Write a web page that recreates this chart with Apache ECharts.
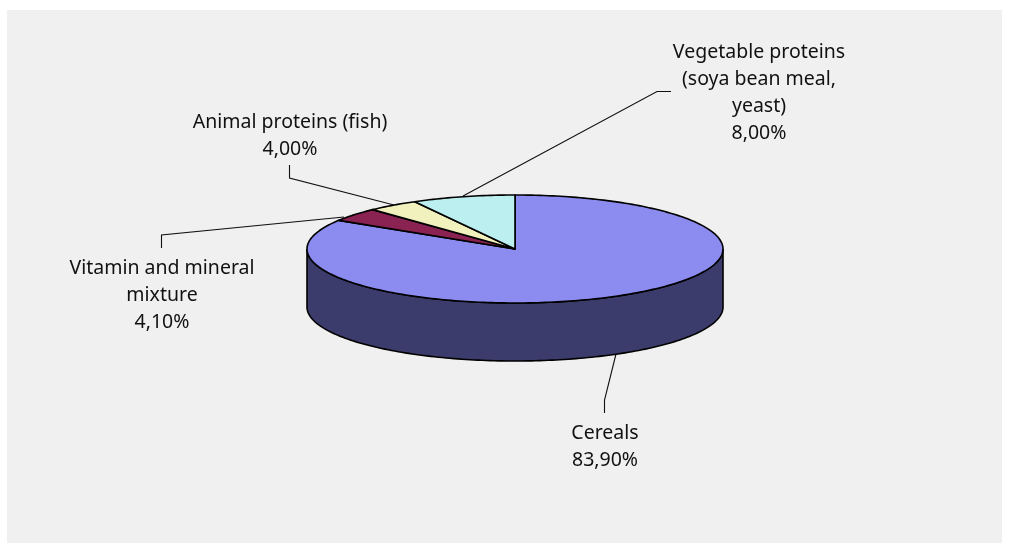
<!DOCTYPE html>
<html>
<head>
<meta charset="utf-8">
<style>
  html, body { margin: 0; padding: 0; background: #fff; }
  #chart { width: 1009px; height: 543px; }
</style>
<script src="https://cdn.jsdelivr.net/npm/echarts@6/dist/echarts.min.js"></script>
</head>
<body>
<div id="chart"></div>
<script>
// values
const names = ['Cereals', 'Vitamin and mineral\nmixture', 'Animal proteins (fish)', 'Vegetable proteins\n(soya bean meal,\nyeast)'];
const values = [83.9, 4.1, 4.0, 8.0];

const colors = ['#8b8bf0', '#8a2252', '#f1f1bd', '#bcf0f0'];
const wallColor = '#3c3c6c';

// pie geometry
const cx = 515, cy = 249, rx = 208, ry = 54, depth = 58;

// label anchors and leader lines, same order as names
const labelPos = [[605, 420], [162, 255], [290, 109], [759, 39]];
const leaders = [
  [[604.5, 413], [604.5, 400], [616, 354]],
  [[161.5, 248], [161.5, 235], [344, 217]],
  [[289.5, 165], [289.5, 178], [394, 205]],
  [[671, 91.5], [657, 91.5], [463, 196]]
];

function pt(t, dy) {
  return [cx + rx * Math.sin(t), cy - ry * Math.cos(t) + (dy || 0)];
}

function arc(a, b, dy) {
  const pts = [];
  const n = Math.max(2, Math.ceil((b - a) / 0.02));
  for (let i = 0; i <= n; i++) pts.push(pt(a + (b - a) * i / n, dy));
  return pts;
}

const total = values.reduce((s, v) => s + v, 0);
let acc = 0;
const sliceData = values.map((v, i) => {
  const row = [acc, v, i];
  acc += v;
  return row;
});

// side wall is only seen on the front half
function renderWall(params, api) {
  const a = api.value(0) / total * Math.PI * 2;
  const b = a + api.value(1) / total * Math.PI * 2;
  const wa = Math.max(a, Math.PI / 2), wb = Math.min(b, Math.PI * 3 / 2);
  if (wb <= wa) return null;
  return {
    type: 'polygon',
    shape: { points: arc(wa, wb, 0).concat(arc(wa, wb, depth).reverse()) },
    style: { fill: wallColor, stroke: '#000', lineWidth: 1.6 }
  };
}

function renderTop(params, api) {
  const a = api.value(0) / total * Math.PI * 2;
  const b = a + api.value(1) / total * Math.PI * 2;
  return {
    type: 'polygon',
    shape: { points: [[cx, cy]].concat(arc(a, b, 0)) },
    style: { fill: colors[api.value(2)], stroke: '#000', lineWidth: 1.6, lineJoin: 'round' }
  };
}

const graphics = [{
  type: 'rect',
  z: -1,
  shape: { x: 7, y: 10, width: 995, height: 533 },
  style: { fill: '#f0f0f0' }
}];
leaders.forEach(l => {
  graphics.push({
    type: 'polyline',
    z: 1,
    shape: { points: l },
    style: { fill: null, stroke: '#111', lineWidth: 1.1 }
  });
});
names.forEach((name, i) => {
  graphics.push({
    type: 'text',
    z: 1,
    x: labelPos[i][0],
    y: labelPos[i][1],
    style: {
      text: name + '\n' + values[i].toFixed(2).replace('.', ',') + '%',
      font: '19.5px "Noto Sans"',
      fill: '#111',
      align: 'center',
      verticalAlign: 'top',
      lineHeight: 27
    }
  });
});

const chart = echarts.init(document.getElementById('chart'), null, { renderer: 'canvas' });
chart.setOption({
  animation: false,
  backgroundColor: '#fff',
  graphic: graphics,
  series: [
    { type: 'custom', coordinateSystem: 'none', silent: true, data: sliceData, renderItem: renderWall, z: 3 },
    { type: 'custom', coordinateSystem: 'none', silent: true, data: sliceData, renderItem: renderTop, z: 4 }
  ]
});
</script>
</body>
</html>
